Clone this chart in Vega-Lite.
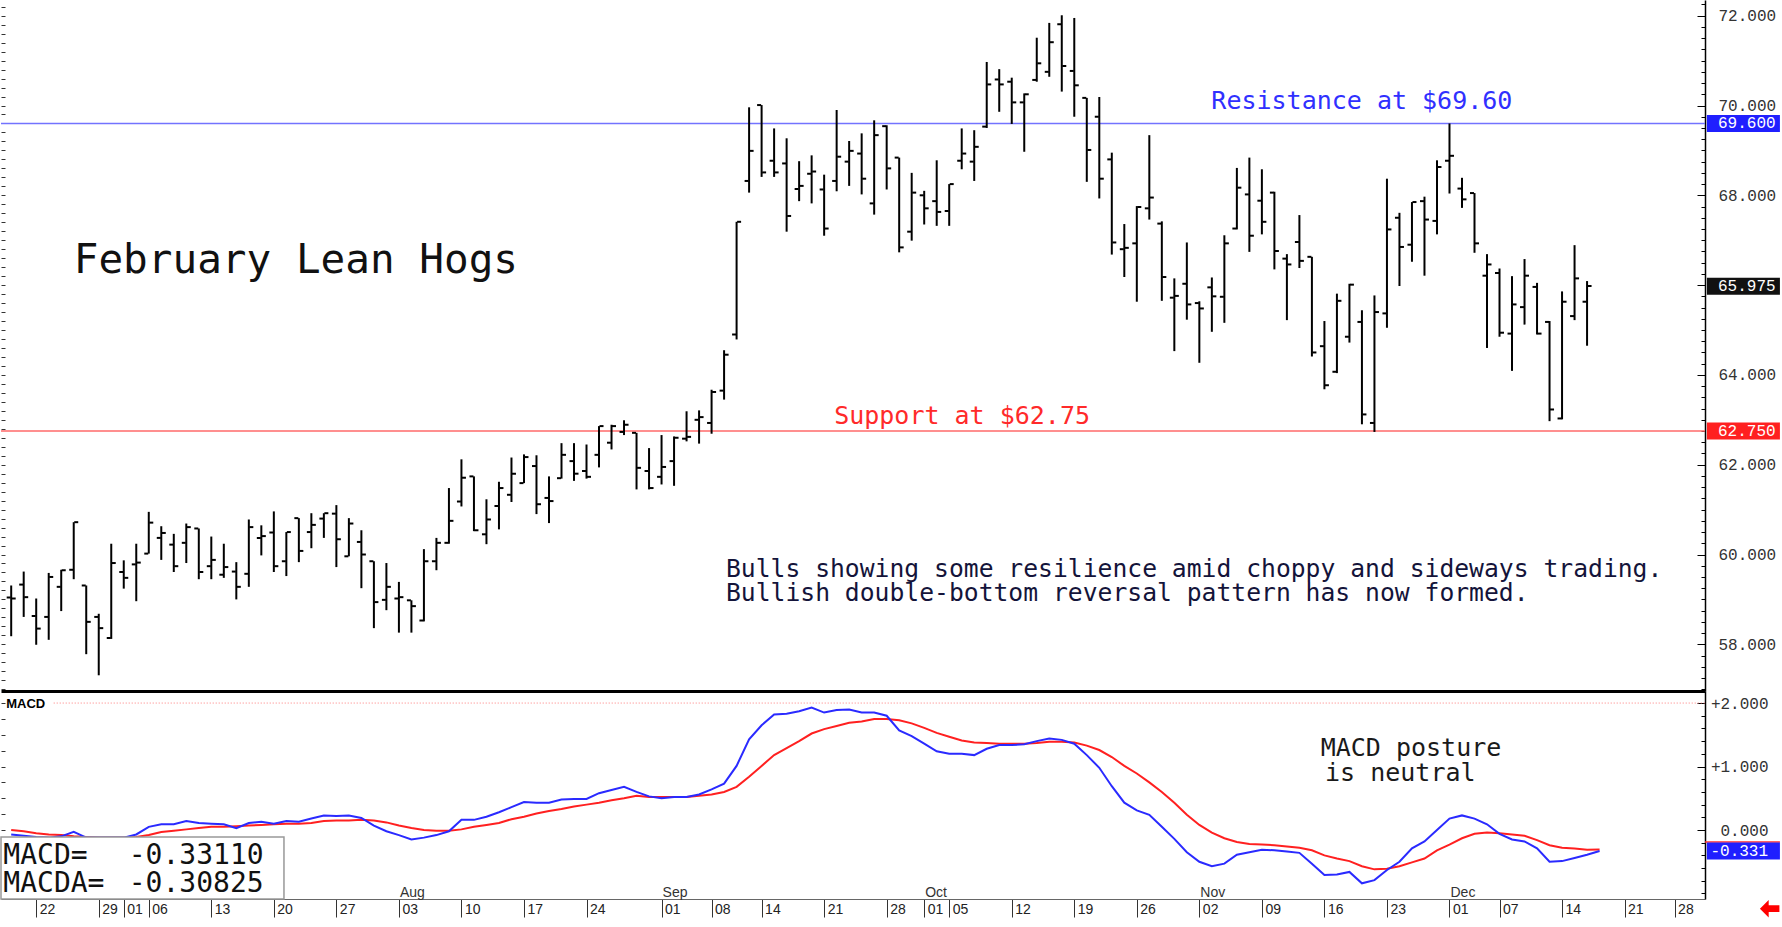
{
"$schema":"https://vega.github.io/schema/vega-lite/v6.json",
"padding":0,
"spacing":0,
"background":"white",
"config":{"view":{"stroke":null},"axis":{"grid":false,"title":null}},
"datasets":{
"bars":[
{"i":0,"o":59.04,"h":59.31,"l":58.18,"c":59.02},
{"i":1,"o":59.33,"h":59.62,"l":58.61,"c":59.05},
{"i":2,"o":58.63,"h":59.02,"l":57.99,"c":58.35},
{"i":3,"o":58.61,"h":59.59,"l":58.10,"c":59.50},
{"i":4,"o":59.28,"h":59.66,"l":58.74,"c":59.65},
{"i":5,"o":59.66,"h":60.72,"l":59.45,"c":60.72},
{"i":6,"o":59.31,"h":59.31,"l":57.78,"c":58.50},
{"i":7,"o":58.61,"h":58.68,"l":57.31,"c":58.36},
{"i":8,"o":58.14,"h":60.24,"l":58.12,"c":59.81},
{"i":9,"o":59.61,"h":59.87,"l":59.24,"c":59.48},
{"i":10,"o":59.78,"h":60.24,"l":58.96,"c":59.82},
{"i":11,"o":60.02,"h":60.95,"l":60.02,"c":60.71},
{"i":12,"o":60.37,"h":60.63,"l":59.88,"c":60.48},
{"i":13,"o":60.22,"h":60.46,"l":59.61,"c":59.74},
{"i":14,"o":60.26,"h":60.69,"l":59.81,"c":60.61},
{"i":15,"o":60.58,"h":60.58,"l":59.45,"c":59.61},
{"i":16,"o":59.74,"h":60.40,"l":59.45,"c":59.88},
{"i":17,"o":59.55,"h":60.24,"l":59.48,"c":59.72},
{"i":18,"o":59.62,"h":59.83,"l":59.00,"c":59.28},
{"i":19,"o":59.57,"h":60.78,"l":59.28,"c":60.61},
{"i":20,"o":60.37,"h":60.65,"l":59.98,"c":60.41},
{"i":21,"o":60.49,"h":60.96,"l":59.61,"c":59.74},
{"i":22,"o":59.85,"h":60.50,"l":59.52,"c":60.50},
{"i":23,"o":60.81,"h":60.81,"l":59.83,"c":60.08},
{"i":24,"o":60.50,"h":60.92,"l":60.14,"c":60.66},
{"i":25,"o":60.80,"h":60.92,"l":60.37,"c":60.92},
{"i":26,"o":60.91,"h":61.10,"l":59.72,"c":60.34},
{"i":27,"o":59.96,"h":60.81,"l":59.96,"c":60.69},
{"i":28,"o":60.28,"h":60.54,"l":59.25,"c":60.00},
{"i":29,"o":59.85,"h":59.85,"l":58.36,"c":58.94},
{"i":30,"o":58.99,"h":59.81,"l":58.76,"c":59.28},
{"i":31,"o":59.02,"h":59.39,"l":58.26,"c":59.05},
{"i":32,"o":58.98,"h":58.98,"l":58.26,"c":58.85},
{"i":33,"o":58.53,"h":60.12,"l":58.51,"c":59.85},
{"i":34,"o":59.85,"h":60.37,"l":59.65,"c":60.26},
{"i":35,"o":60.26,"h":61.48,"l":60.24,"c":60.75},
{"i":36,"o":61.18,"h":62.12,"l":61.07,"c":61.71},
{"i":37,"o":61.74,"h":61.74,"l":60.52,"c":60.54},
{"i":38,"o":60.45,"h":61.23,"l":60.23,"c":60.78},
{"i":39,"o":61.08,"h":61.62,"l":60.56,"c":61.48},
{"i":40,"o":61.33,"h":62.16,"l":61.17,"c":61.80},
{"i":41,"o":61.59,"h":62.23,"l":61.59,"c":62.17},
{"i":42,"o":61.97,"h":62.21,"l":60.90,"c":61.12},
{"i":43,"o":61.26,"h":61.74,"l":60.70,"c":61.19},
{"i":44,"o":61.70,"h":62.48,"l":61.69,"c":62.22},
{"i":45,"o":62.08,"h":62.48,"l":61.64,"c":61.80},
{"i":46,"o":61.86,"h":62.45,"l":61.69,"c":61.73},
{"i":47,"o":62.22,"h":62.86,"l":61.94,"c":62.86},
{"i":48,"o":62.49,"h":62.89,"l":62.34,"c":62.86},
{"i":49,"o":62.73,"h":62.99,"l":62.66,"c":62.89},
{"i":50,"o":62.71,"h":62.71,"l":61.45,"c":61.93},
{"i":51,"o":61.86,"h":62.37,"l":61.45,"c":61.48},
{"i":52,"o":61.73,"h":62.66,"l":61.56,"c":61.95},
{"i":53,"o":62.08,"h":62.63,"l":61.53,"c":62.60},
{"i":54,"o":62.58,"h":63.19,"l":62.52,"c":62.62},
{"i":55,"o":63.00,"h":63.21,"l":62.47,"c":63.06},
{"i":56,"o":62.93,"h":63.67,"l":62.69,"c":63.62},
{"i":57,"o":63.65,"h":64.55,"l":63.45,"c":64.45},
{"i":58,"o":64.90,"h":67.41,"l":64.79,"c":67.41},
{"i":59,"o":68.32,"h":69.96,"l":68.06,"c":68.99},
{"i":60,"o":70.01,"h":70.01,"l":68.41,"c":68.51},
{"i":61,"o":68.77,"h":69.49,"l":68.41,"c":68.51},
{"i":62,"o":68.71,"h":69.27,"l":67.19,"c":67.54},
{"i":63,"o":68.14,"h":68.76,"l":67.87,"c":68.21},
{"i":64,"o":68.48,"h":68.89,"l":67.82,"c":68.53},
{"i":65,"o":68.13,"h":68.46,"l":67.10,"c":67.26},
{"i":66,"o":68.32,"h":69.90,"l":68.09,"c":68.86},
{"i":67,"o":68.75,"h":69.21,"l":68.21,"c":68.99},
{"i":68,"o":68.93,"h":69.38,"l":68.02,"c":68.37},
{"i":69,"o":67.82,"h":69.67,"l":67.57,"c":69.34},
{"i":70,"o":69.54,"h":69.56,"l":68.13,"c":68.60},
{"i":71,"o":68.84,"h":68.84,"l":66.73,"c":66.84},
{"i":72,"o":67.19,"h":68.50,"l":66.99,"c":68.06},
{"i":73,"o":68.00,"h":68.10,"l":67.35,"c":67.71},
{"i":74,"o":67.87,"h":68.78,"l":67.32,"c":67.63},
{"i":75,"o":67.65,"h":68.25,"l":67.32,"c":68.25},
{"i":76,"o":68.77,"h":69.49,"l":68.58,"c":68.93},
{"i":77,"o":68.75,"h":69.45,"l":68.32,"c":69.08},
{"i":78,"o":69.53,"h":70.97,"l":69.50,"c":70.47},
{"i":79,"o":70.58,"h":70.81,"l":69.86,"c":70.47},
{"i":80,"o":70.53,"h":70.62,"l":69.59,"c":70.07},
{"i":81,"o":70.07,"h":70.27,"l":68.97,"c":70.25},
{"i":82,"o":70.57,"h":71.51,"l":70.53,"c":70.94},
{"i":83,"o":70.75,"h":71.84,"l":70.64,"c":71.41},
{"i":84,"o":71.81,"h":72.01,"l":70.31,"c":70.88},
{"i":85,"o":70.77,"h":71.95,"l":69.75,"c":70.45},
{"i":86,"o":70.17,"h":70.17,"l":68.30,"c":69.01},
{"i":87,"o":69.75,"h":70.19,"l":67.93,"c":68.37},
{"i":88,"o":68.80,"h":68.95,"l":66.68,"c":66.95},
{"i":89,"o":66.80,"h":67.36,"l":66.18,"c":66.83},
{"i":90,"o":66.93,"h":67.76,"l":65.63,"c":67.74},
{"i":91,"o":67.71,"h":69.34,"l":67.46,"c":67.95},
{"i":92,"o":67.37,"h":67.42,"l":65.65,"c":66.18},
{"i":93,"o":65.72,"h":66.15,"l":64.53,"c":65.76},
{"i":94,"o":66.03,"h":66.95,"l":65.23,"c":65.57},
{"i":95,"o":65.60,"h":65.64,"l":64.27,"c":65.48},
{"i":96,"o":65.95,"h":66.17,"l":64.96,"c":65.75},
{"i":97,"o":65.74,"h":67.11,"l":65.16,"c":66.93},
{"i":98,"o":67.26,"h":68.61,"l":67.24,"c":68.17},
{"i":99,"o":68.02,"h":68.84,"l":66.74,"c":67.10},
{"i":100,"o":67.88,"h":68.58,"l":67.13,"c":67.41},
{"i":101,"o":68.06,"h":68.08,"l":66.35,"c":66.76},
{"i":102,"o":66.59,"h":66.69,"l":65.22,"c":66.46},
{"i":103,"o":66.96,"h":67.56,"l":66.38,"c":66.54},
{"i":104,"o":66.63,"h":66.63,"l":64.41,"c":64.50},
{"i":105,"o":64.64,"h":65.20,"l":63.68,"c":63.77},
{"i":106,"o":64.07,"h":65.81,"l":64.04,"c":65.65},
{"i":107,"o":64.85,"h":66.03,"l":64.72,"c":66.01},
{"i":108,"o":65.18,"h":65.44,"l":62.90,"c":63.12},
{"i":109,"o":62.93,"h":65.77,"l":62.73,"c":65.40},
{"i":110,"o":65.37,"h":68.37,"l":65.05,"c":67.24},
{"i":111,"o":67.50,"h":67.61,"l":65.98,"c":66.85},
{"i":112,"o":66.90,"h":67.85,"l":66.52,"c":67.85},
{"i":113,"o":67.87,"h":67.97,"l":66.21,"c":67.46},
{"i":114,"o":67.43,"h":68.78,"l":67.13,"c":68.63},
{"i":115,"o":68.77,"h":69.60,"l":68.04,"c":68.88},
{"i":116,"o":68.15,"h":68.39,"l":67.72,"c":67.91},
{"i":117,"o":68.05,"h":68.05,"l":66.72,"c":66.93},
{"i":118,"o":66.21,"h":66.69,"l":64.60,"c":66.46},
{"i":119,"o":66.27,"h":66.37,"l":64.85,"c":64.94},
{"i":120,"o":64.92,"h":66.20,"l":64.09,"c":65.57},
{"i":121,"o":65.51,"h":66.58,"l":65.12,"c":66.21},
{"i":122,"o":65.96,"h":66.05,"l":64.90,"c":64.92},
{"i":123,"o":65.18,"h":65.20,"l":62.97,"c":63.23},
{"i":124,"o":63.03,"h":65.86,"l":63.01,"c":65.63},
{"i":125,"o":65.31,"h":66.89,"l":65.22,"c":66.15},
{"i":126,"o":65.63,"h":66.09,"l":64.65,"c":65.98}
],
"macd":[
{"i":0,"m":-0.07,"s":0.00},{"i":1,"m":-0.09,"s":-0.02},{"i":2,"m":-0.11,"s":-0.05},{"i":3,"m":-0.12,"s":-0.07},
{"i":4,"m":-0.10,"s":-0.08},{"i":5,"m":-0.03,"s":-0.10},{"i":6,"m":-0.12,"s":-0.11},{"i":7,"m":-0.12,"s":-0.12},
{"i":8,"m":-0.12,"s":-0.12},{"i":9,"m":-0.12,"s":-0.12},{"i":10,"m":-0.07,"s":-0.11},{"i":11,"m":0.05,"s":-0.08},
{"i":12,"m":0.09,"s":-0.03},{"i":13,"m":0.09,"s":-0.01},{"i":14,"m":0.14,"s":0.01},{"i":15,"m":0.11,"s":0.03},
{"i":16,"m":0.10,"s":0.05},{"i":17,"m":0.09,"s":0.05},{"i":18,"m":0.03,"s":0.06},{"i":19,"m":0.11,"s":0.07},
{"i":20,"m":0.13,"s":0.08},{"i":21,"m":0.10,"s":0.09},{"i":22,"m":0.14,"s":0.10},{"i":23,"m":0.13,"s":0.10},
{"i":24,"m":0.18,"s":0.11},{"i":25,"m":0.23,"s":0.14},{"i":26,"m":0.22,"s":0.15},{"i":27,"m":0.23,"s":0.15},
{"i":28,"m":0.19,"s":0.16},{"i":29,"m":0.07,"s":0.15},{"i":30,"m":-0.02,"s":0.12},{"i":31,"m":-0.08,"s":0.07},
{"i":32,"m":-0.15,"s":0.03},{"i":33,"m":-0.12,"s":0.00},{"i":34,"m":-0.08,"s":-0.01},{"i":35,"m":-0.02,"s":-0.01},
{"i":36,"m":0.16,"s":0.01},{"i":37,"m":0.16,"s":0.05},{"i":38,"m":0.21,"s":0.08},{"i":39,"m":0.28,"s":0.11},
{"i":40,"m":0.36,"s":0.17},{"i":41,"m":0.44,"s":0.21},{"i":42,"m":0.43,"s":0.26},{"i":43,"m":0.43,"s":0.30},
{"i":44,"m":0.48,"s":0.33},{"i":45,"m":0.49,"s":0.37},{"i":46,"m":0.49,"s":0.40},{"i":47,"m":0.58,"s":0.43},
{"i":48,"m":0.63,"s":0.47},{"i":49,"m":0.68,"s":0.50},{"i":50,"m":0.60,"s":0.54},{"i":51,"m":0.53,"s":0.52},
{"i":52,"m":0.50,"s":0.52},{"i":53,"m":0.52,"s":0.52},{"i":54,"m":0.52,"s":0.52},{"i":55,"m":0.56,"s":0.54},
{"i":56,"m":0.64,"s":0.56},{"i":57,"m":0.73,"s":0.60},{"i":58,"m":1.01,"s":0.68},{"i":59,"m":1.43,"s":0.84},
{"i":60,"m":1.65,"s":1.01},{"i":61,"m":1.82,"s":1.18},{"i":62,"m":1.83,"s":1.29},{"i":63,"m":1.87,"s":1.40},
{"i":64,"m":1.93,"s":1.52},{"i":65,"m":1.85,"s":1.59},{"i":66,"m":1.89,"s":1.64},{"i":67,"m":1.90,"s":1.69},
{"i":68,"m":1.85,"s":1.71},{"i":69,"m":1.85,"s":1.75},{"i":70,"m":1.80,"s":1.75},{"i":71,"m":1.57,"s":1.73},
{"i":72,"m":1.48,"s":1.68},{"i":73,"m":1.36,"s":1.61},{"i":74,"m":1.24,"s":1.53},{"i":75,"m":1.20,"s":1.47},
{"i":76,"m":1.20,"s":1.41},{"i":77,"m":1.18,"s":1.38},{"i":78,"m":1.28,"s":1.37},{"i":79,"m":1.34,"s":1.36},
{"i":80,"m":1.34,"s":1.36},{"i":81,"m":1.35,"s":1.36},{"i":82,"m":1.40,"s":1.37},{"i":83,"m":1.44,"s":1.39},
{"i":84,"m":1.42,"s":1.39},{"i":85,"m":1.36,"s":1.38},{"i":86,"m":1.18,"s":1.33},{"i":87,"m":0.98,"s":1.26},
{"i":88,"m":0.69,"s":1.15},{"i":89,"m":0.43,"s":1.01},{"i":90,"m":0.31,"s":0.89},{"i":91,"m":0.24,"s":0.75},
{"i":92,"m":0.05,"s":0.60},{"i":93,"m":-0.14,"s":0.43},{"i":94,"m":-0.35,"s":0.24},{"i":95,"m":-0.50,"s":0.08},
{"i":96,"m":-0.57,"s":-0.04},{"i":97,"m":-0.53,"s":-0.13},{"i":98,"m":-0.39,"s":-0.19},{"i":99,"m":-0.35,"s":-0.22},
{"i":100,"m":-0.31,"s":-0.23},{"i":101,"m":-0.32,"s":-0.24},{"i":102,"m":-0.34,"s":-0.26},{"i":103,"m":-0.36,"s":-0.28},
{"i":104,"m":-0.53,"s":-0.32},{"i":105,"m":-0.71,"s":-0.40},{"i":106,"m":-0.70,"s":-0.45},{"i":107,"m":-0.66,"s":-0.49},
{"i":108,"m":-0.84,"s":-0.57},{"i":109,"m":-0.79,"s":-0.62},{"i":110,"m":-0.63,"s":-0.61},{"i":111,"m":-0.50,"s":-0.57},
{"i":112,"m":-0.29,"s":-0.51},{"i":113,"m":-0.18,"s":-0.45},{"i":114,"m":0.00,"s":-0.32},{"i":115,"m":0.18,"s":-0.23},
{"i":116,"m":0.23,"s":-0.13},{"i":117,"m":0.18,"s":-0.06},{"i":118,"m":0.09,"s":-0.04},{"i":119,"m":-0.06,"s":-0.05},
{"i":120,"m":-0.15,"s":-0.07},{"i":121,"m":-0.18,"s":-0.09},{"i":122,"m":-0.29,"s":-0.16},{"i":123,"m":-0.50,"s":-0.24},
{"i":124,"m":-0.49,"s":-0.28},{"i":125,"m":-0.44,"s":-0.29},{"i":126,"m":-0.39,"s":-0.31},{"i":127,"m":-0.331,"s":-0.308}
],
"months":[{"i":31,"t":"Aug"},{"i":52,"t":"Sep"},{"i":73,"t":"Oct"},{"i":95,"t":"Nov"},{"i":115,"t":"Dec"}]
},
"vconcat":[
{
"width":1704,"height":691,
"resolve":{"axis":{"x":"independent","y":"independent"}},
"layer":[
{"data":{"values":[{}]},"mark":{"type":"rule","color":"#ff6a6a","strokeWidth":1.6},
 "encoding":{"y":{"datum":62.75,"type":"quantitative","scale":{"domain":[56.96,72.35],"nice":false,"zero":false},"axis":null}}},
{"data":{"values":[{}]},"mark":{"type":"rule","color":"#7373ff","strokeWidth":1.6},
 "encoding":{"y":{"datum":69.6,"type":"quantitative","scale":{"domain":[56.96,72.35],"nice":false,"zero":false},"axis":null}}},
{"data":{"name":"bars"},"mark":{"type":"rule","color":"#000","strokeWidth":2},
 "encoding":{
  "x":{"field":"i","type":"quantitative","scale":{"domain":[-0.815,135.43],"nice":false,"zero":false},
       "axis":{"orient":"bottom","ticks":false,"labels":false,"domain":true,"domainColor":"#000","domainWidth":3,"grid":false,"title":null}},
  "y":{"field":"l","type":"quantitative","scale":{"domain":[56.96,72.35],"nice":false,"zero":false},
       "axis":{"orient":"right","values":[58,60,62,64,66,68,70,72],"format":".3f","tickSize":-8,"tickColor":"#000","tickWidth":1,"domain":true,"domainColor":"#000","domainWidth":1.5,"labelAlign":"left","labelBaseline":"middle","labelPadding":21,"labelFont":"Liberation Mono","labelFontSize":16,"labelColor":"#333","labelOverlap":false,"labelFlush":false,"grid":false,"title":null}},
  "y2":{"field":"h"}}},
{"data":{"name":"bars"},"mark":{"type":"tick","orient":"horizontal","color":"#000","size":4,"thickness":2,"xOffset":-2.5,"opacity":1},
 "encoding":{
  "x":{"field":"i","type":"quantitative","scale":{"domain":[-0.815,135.43],"nice":false,"zero":false},"axis":null},
  "y":{"field":"o","type":"quantitative","scale":{"domain":[56.96,72.35],"nice":false,"zero":false},
       "axis":{"orient":"right","values":[57,57.25,57.5,57.75,58,58.25,58.5,58.75,59,59.25,59.5,59.75,60,60.25,60.5,60.75,61,61.25,61.5,61.75,62,62.25,62.5,62.75,63,63.25,63.5,63.75,64,64.25,64.5,64.75,65,65.25,65.5,65.75,66,66.25,66.5,66.75,67,67.25,67.5,67.75,68,68.25,68.5,68.75,69,69.25,69.5,69.75,70,70.25,70.5,70.75,71,71.25,71.5,71.75,72,72.25],"tickSize":-4,"tickColor":"#000","labels":false,"domain":false,"grid":false,"title":null}}}},
{"data":{"name":"bars"},"mark":{"type":"tick","orient":"horizontal","color":"#000","size":4,"thickness":2,"xOffset":2.5,"opacity":1},
 "encoding":{
  "x":{"field":"i","type":"quantitative","scale":{"domain":[-0.815,135.43],"nice":false,"zero":false},"axis":null},
  "y":{"field":"c","type":"quantitative","scale":{"domain":[56.96,72.35],"nice":false,"zero":false},
       "axis":{"orient":"left","values":[57,57.2,57.4,57.6,57.8,58,58.2,58.4,58.6,58.8,59,59.2,59.4,59.6,59.8,60,60.2,60.4,60.6,60.8,61,61.2,61.4,61.6,61.8,62,62.2,62.4,62.6,62.8,63,63.2,63.4,63.6,63.8,64,64.2,64.4,64.6,64.8,65,65.2,65.4,65.6,65.8,66,66.2,66.4,66.6,66.8,67,67.2,67.4,67.6,67.8,68,68.2,68.4,68.6,68.8,69,69.2,69.4,69.6,69.8,70,70.2,70.4,70.6,70.8,71,71.2,71.4,71.6,71.8,72,72.2],"tickSize":-4,"tickColor":"#333","labels":false,"domain":false,"grid":false,"title":null}}}},
{"data":{"values":[{"t":"February Lean Hogs"}]},"mark":{"type":"text","font":"DejaVu Sans Mono","fontSize":41,"align":"left","baseline":"alphabetic","color":"#111"},
 "encoding":{"x":{"datum":5.0,"type":"quantitative","scale":{"domain":[-0.815,135.43],"nice":false,"zero":false},"axis":null},
  "y":{"datum":66.27,"type":"quantitative","scale":{"domain":[56.96,72.35],"nice":false,"zero":false},"axis":null},"text":{"field":"t"}}},
{"data":{"values":[{"t":"Resistance at $69.60"}]},"mark":{"type":"text","font":"DejaVu Sans Mono","fontSize":25,"align":"left","baseline":"alphabetic","color":"#3030ff"},
 "encoding":{"x":{"datum":95.96,"type":"quantitative","scale":{"domain":[-0.815,135.43],"nice":false,"zero":false},"axis":null},
  "y":{"datum":69.92,"type":"quantitative","scale":{"domain":[56.96,72.35],"nice":false,"zero":false},"axis":null},"text":{"field":"t"}}},
{"data":{"values":[{"t":"Support at $62.75"}]},"mark":{"type":"text","font":"DejaVu Sans Mono","fontSize":25,"align":"left","baseline":"alphabetic","color":"#ff2a2a"},
 "encoding":{"x":{"datum":65.8,"type":"quantitative","scale":{"domain":[-0.815,135.43],"nice":false,"zero":false},"axis":null},
  "y":{"datum":62.90,"type":"quantitative","scale":{"domain":[56.96,72.35],"nice":false,"zero":false},"axis":null},"text":{"field":"t"}}},
{"data":{"values":[{"t":"Bulls showing some resilience amid choppy and sideways trading."}]},"mark":{"type":"text","font":"DejaVu Sans Mono","fontSize":24.7,"align":"left","baseline":"alphabetic","color":"#14143a"},
 "encoding":{"x":{"datum":57.15,"type":"quantitative","scale":{"domain":[-0.815,135.43],"nice":false,"zero":false},"axis":null},
  "y":{"datum":59.51,"type":"quantitative","scale":{"domain":[56.96,72.35],"nice":false,"zero":false},"axis":null},"text":{"field":"t"}}},
{"data":{"values":[{"t":"Bullish double-bottom reversal pattern has now formed."}]},"mark":{"type":"text","font":"DejaVu Sans Mono","fontSize":24.7,"align":"left","baseline":"alphabetic","color":"#14143a"},
 "encoding":{"x":{"datum":57.15,"type":"quantitative","scale":{"domain":[-0.815,135.43],"nice":false,"zero":false},"axis":null},
  "y":{"datum":58.96,"type":"quantitative","scale":{"domain":[56.96,72.35],"nice":false,"zero":false},"axis":null},"text":{"field":"t"}}},
{"data":{"values":[{}]},"mark":{"type":"rect","color":"#1f1fff"},
 "encoding":{"x":{"datum":135.58,"type":"quantitative","scale":{"domain":[-0.815,135.43],"nice":false,"zero":false},"axis":null},"x2":{"datum":141.42},
  "y":{"datum":69.41,"type":"quantitative","scale":{"domain":[56.96,72.35],"nice":false,"zero":false},"axis":null},"y2":{"datum":69.79}}},
{"data":{"values":[{}]},"mark":{"type":"rect","color":"#111111"},
 "encoding":{"x":{"datum":135.58,"type":"quantitative","scale":{"domain":[-0.815,135.43],"nice":false,"zero":false},"axis":null},"x2":{"datum":141.42},
  "y":{"datum":65.785,"type":"quantitative","scale":{"domain":[56.96,72.35],"nice":false,"zero":false},"axis":null},"y2":{"datum":66.165}}},
{"data":{"values":[{}]},"mark":{"type":"rect","color":"#ff2020"},
 "encoding":{"x":{"datum":135.58,"type":"quantitative","scale":{"domain":[-0.815,135.43],"nice":false,"zero":false},"axis":null},"x2":{"datum":141.42},
  "y":{"datum":62.56,"type":"quantitative","scale":{"domain":[56.96,72.35],"nice":false,"zero":false},"axis":null},"y2":{"datum":62.94}}},
{"data":{"values":[{"v":69.6,"t":"69.600"},{"v":65.975,"t":"65.975"},{"v":62.75,"t":"62.750"}]},"mark":{"type":"text","font":"Liberation Mono","fontSize":16,"align":"left","baseline":"middle","color":"white"},
 "encoding":{"x":{"datum":136.47,"type":"quantitative","scale":{"domain":[-0.815,135.43],"nice":false,"zero":false},"axis":null},
  "y":{"field":"v","type":"quantitative","scale":{"domain":[56.96,72.35],"nice":false,"zero":false},"axis":null},"text":{"field":"t"}}}
]
},
{
"width":1704,"height":208,
"resolve":{"axis":{"x":"independent","y":"independent"}},
"layer":[
{"data":{"values":[{}]},"mark":{"type":"rule","color":"#ff7a7a","strokeWidth":1,"strokeDash":[1,2]},
 "encoding":{"x":{"datum":3.4,"type":"quantitative","scale":{"domain":[-0.815,135.43],"nice":false,"zero":false},"axis":null},"x2":{"datum":135.43},
  "y":{"datum":2,"type":"quantitative","scale":{"domain":[-1.087,2.19],"nice":false,"zero":false},"axis":null}}},
{"data":{"name":"macd"},"mark":{"type":"line","color":"#ff2020","strokeWidth":2},
 "encoding":{
  "x":{"field":"i","type":"quantitative","scale":{"domain":[-0.815,135.43],"nice":false,"zero":false},
       "axis":{"orient":"bottom","values":[2,7,9,11,16,21,26,31,36,41,46,52,56,60,65,70,73,75,80,85,90,95,100,105,110,115,119,124,129,133],
        "labelExpr":"['22','29','01','06','13','20','27','03','10','17','24','01','08','14','21','28','01','05','12','19','26','02','09','16','23','01','07','14','21','28'][indexof([2,7,9,11,16,21,26,31,36,41,46,52,56,60,65,70,73,75,80,85,90,95,100,105,110,115,119,124,129,133], datum.value)]",
        "tickSize":18,"tickColor":"#333","tickWidth":1,"domain":true,"domainColor":"#666","domainWidth":1,"labelAlign":"left","labelBaseline":"middle","labelPadding":-8,"labelOffset":3,"labelFont":"Liberation Sans","labelFontSize":14,"labelColor":"#222","labelOverlap":false,"labelFlush":false,"labelBound":false,"grid":false,"title":null}},
  "y":{"field":"s","type":"quantitative","scale":{"domain":[-1.087,2.19],"nice":false,"zero":false},
       "axis":{"orient":"right","values":[-1,-0.8,-0.6,-0.4,-0.2,0,0.2,0.4,0.6,0.8,1,1.2,1.4,1.6,1.8,2],"tickSize":-4,"tickColor":"#000","labels":false,"domain":false,"grid":false,"title":null}}}},
{"data":{"name":"macd"},"mark":{"type":"line","color":"#2a2aff","strokeWidth":2},
 "encoding":{
  "x":{"field":"i","type":"quantitative","scale":{"domain":[-0.815,135.43],"nice":false,"zero":false},"axis":null},
  "y":{"field":"m","type":"quantitative","scale":{"domain":[-1.087,2.19],"nice":false,"zero":false},
       "axis":{"orient":"right","values":[0,1,2],"labelExpr":"datum.value > 0 ? '+' + format(datum.value, '.3f') : format(datum.value, '.3f')","tickSize":-8,"tickColor":"#000","domain":true,"domainColor":"#000","domainWidth":1.5,"labelAlign":"right","labelBaseline":"middle","labelPadding":71,"labelFont":"Liberation Mono","labelFontSize":16,"labelColor":"#333","labelOverlap":false,"labelFlush":false,"grid":false,"title":null}}}},
{"data":{"values":[{"t":"MACD"}]},"mark":{"type":"text","font":"Liberation Sans","fontSize":13,"fontWeight":"bold","align":"left","baseline":"middle","color":"#000"},
 "encoding":{"x":{"datum":-0.4,"type":"quantitative","scale":{"domain":[-0.815,135.43],"nice":false,"zero":false},"axis":null},
  "y":{"datum":1.98,"type":"quantitative","scale":{"domain":[-1.087,2.19],"nice":false,"zero":false},"axis":null},"text":{"field":"t"}}},
{"data":{"values":[{"t":"MACD posture"}]},"mark":{"type":"text","font":"DejaVu Sans Mono","fontSize":25,"align":"left","baseline":"alphabetic","color":"#1a1a1a"},
 "encoding":{"x":{"datum":104.7,"type":"quantitative","scale":{"domain":[-0.815,135.43],"nice":false,"zero":false},"axis":null},
  "y":{"datum":1.165,"type":"quantitative","scale":{"domain":[-1.087,2.19],"nice":false,"zero":false},"axis":null},"text":{"field":"t"}}},
{"data":{"values":[{"t":"is neutral"}]},"mark":{"type":"text","font":"DejaVu Sans Mono","fontSize":25,"align":"left","baseline":"alphabetic","color":"#1a1a1a"},
 "encoding":{"x":{"datum":105.05,"type":"quantitative","scale":{"domain":[-0.815,135.43],"nice":false,"zero":false},"axis":null},
  "y":{"datum":0.77,"type":"quantitative","scale":{"domain":[-1.087,2.19],"nice":false,"zero":false},"axis":null},"text":{"field":"t"}}},
{"data":{"values":[{}]},"mark":{"type":"rect","fill":"white","stroke":"#999","strokeWidth":1.5},
 "encoding":{"x":{"datum":-0.815,"type":"quantitative","scale":{"domain":[-0.815,135.43],"nice":false,"zero":false},"axis":null},"x2":{"datum":21.81},
  "y":{"datum":-1.087,"type":"quantitative","scale":{"domain":[-1.087,2.19],"nice":false,"zero":false},"axis":null},"y2":{"datum":-0.11}}},
{"data":{"values":[{"t":"MACD=","y":-0.535},{"t":"MACDA=","y":-0.976}]},"mark":{"type":"text","font":"DejaVu Sans Mono","fontSize":28,"align":"left","baseline":"alphabetic","color":"#111"},
 "encoding":{"x":{"datum":-0.63,"type":"quantitative","scale":{"domain":[-0.815,135.43],"nice":false,"zero":false},"axis":null},
  "y":{"field":"y","type":"quantitative","scale":{"domain":[-1.087,2.19],"nice":false,"zero":false},"axis":null},"text":{"field":"t"}}},
{"data":{"values":[{"t":"-0.33110","y":-0.535},{"t":"-0.30825","y":-0.976}]},"mark":{"type":"text","font":"DejaVu Sans Mono","fontSize":28,"align":"left","baseline":"alphabetic","color":"#111"},
 "encoding":{"x":{"datum":9.4,"type":"quantitative","scale":{"domain":[-0.815,135.43],"nice":false,"zero":false},"axis":null},
  "y":{"field":"y","type":"quantitative","scale":{"domain":[-1.087,2.19],"nice":false,"zero":false},"axis":null},"text":{"field":"t"}}},
{"data":{"name":"months"},"mark":{"type":"text","font":"Liberation Sans","fontSize":14,"align":"left","baseline":"alphabetic","color":"#333","dx":1},
 "encoding":{"x":{"field":"i","type":"quantitative","scale":{"domain":[-0.815,135.43],"nice":false,"zero":false},"axis":null},
  "y":{"datum":-1.05,"type":"quantitative","scale":{"domain":[-1.087,2.19],"nice":false,"zero":false},"axis":null},"text":{"field":"t"}}},
{"data":{"values":[{}]},"mark":{"type":"rule","color":"#ff3030","strokeWidth":1.5},
 "encoding":{"x":{"datum":135.43,"type":"quantitative","scale":{"domain":[-0.815,135.43],"nice":false,"zero":false},"axis":null},"x2":{"datum":141.42},
  "y":{"datum":-0.19,"type":"quantitative","scale":{"domain":[-1.087,2.19],"nice":false,"zero":false},"axis":null}}},
{"data":{"values":[{}]},"mark":{"type":"rect","color":"#1f1fff"},
 "encoding":{"x":{"datum":135.58,"type":"quantitative","scale":{"domain":[-0.815,135.43],"nice":false,"zero":false},"axis":null},"x2":{"datum":141.42},
  "y":{"datum":-0.465,"type":"quantitative","scale":{"domain":[-1.087,2.19],"nice":false,"zero":false},"axis":null},"y2":{"datum":-0.197}}},
{"data":{"values":[{"v":-0.331,"t":"-0.331"}]},"mark":{"type":"text","font":"Liberation Mono","fontSize":16,"align":"right","baseline":"middle","color":"white"},
 "encoding":{"x":{"datum":140.47,"type":"quantitative","scale":{"domain":[-0.815,135.43],"nice":false,"zero":false},"axis":null},
  "y":{"field":"v","type":"quantitative","scale":{"domain":[-1.087,2.19],"nice":false,"zero":false},
       "axis":{"orient":"left","values":[-1,-0.75,-0.5,-0.25,0,0.25,0.5,0.75,1,1.25,1.5,1.75,2],"tickSize":-4,"tickColor":"#333","labels":false,"domain":false,"grid":false,"title":null}},"text":{"field":"t"}}},
{"data":{"values":[{}]},"mark":{"type":"point","shape":"M -1 0 L -0.1 -0.9 L -0.1 -0.35 L 1 -0.35 L 1 0.35 L -0.1 0.35 L -0.1 0.9 Z","filled":true,"color":"#ff0000","size":380,"opacity":1},
 "encoding":{"x":{"datum":140.6,"type":"quantitative","scale":{"domain":[-0.815,135.43],"nice":false,"zero":false},"axis":null},
  "y":{"datum":-1.24,"type":"quantitative","scale":{"domain":[-1.087,2.19],"nice":false,"zero":false},"axis":null}}}
]
}
]
}
